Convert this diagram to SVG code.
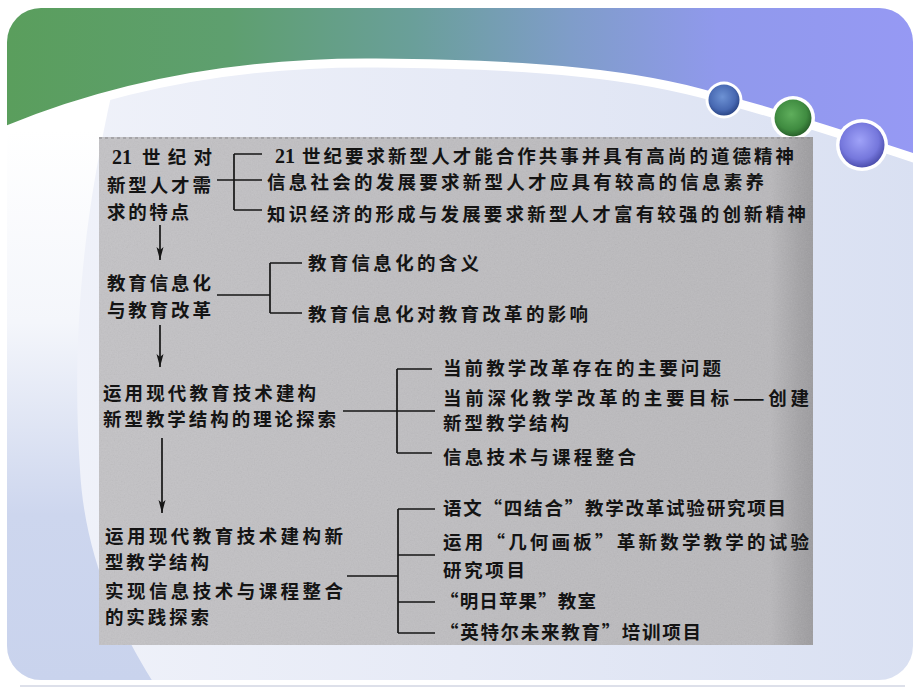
<svg xmlns="http://www.w3.org/2000/svg" width="920" height="690" viewBox="0 0 920 690">
<defs>
<style>
.t{font-family:"Noto Sans CJK SC","Liberation Sans",sans-serif;font-size:18.5px;font-weight:700;fill:#141414;}
.d{font-family:"Liberation Serif","Noto Sans CJK SC",serif;font-size:20px;font-weight:700;fill:#141414;}
.ln{stroke:#161616;stroke-width:1.7;fill:none;}
</style>
<clipPath id="card"><rect x="7" y="8" width="906" height="672" rx="34"/></clipPath>
<linearGradient id="head" x1="0" y1="0" x2="920" y2="0" gradientUnits="userSpaceOnUse">
<stop offset="0" stop-color="#5a9e5c"/><stop offset="0.25" stop-color="#5e9f6f"/><stop offset="0.45" stop-color="#6a9f9a"/><stop offset="0.62" stop-color="#7f9dc9"/><stop offset="0.78" stop-color="#9099ec"/><stop offset="1" stop-color="#9699f4"/>
</linearGradient>
<linearGradient id="light" x1="0" y1="0" x2="920" y2="0" gradientUnits="userSpaceOnUse">
<stop offset="0" stop-color="#f1f3fa"/><stop offset="0.5" stop-color="#e6eaf6"/><stop offset="1" stop-color="#d9e0f2"/>
</linearGradient>
<linearGradient id="strip" x1="0" y1="130" x2="0" y2="680" gradientUnits="userSpaceOnUse">
<stop offset="0" stop-color="#ffffff"/><stop offset="0.35" stop-color="#f4f6fb"/><stop offset="0.7" stop-color="#cdd6ee"/><stop offset="1" stop-color="#c9d3ed"/>
</linearGradient>
<linearGradient id="photo" x1="99" y1="0" x2="813" y2="0" gradientUnits="userSpaceOnUse">
<stop offset="0" stop-color="#c3c2c5"/><stop offset="0.5" stop-color="#bebdc0"/><stop offset="0.94" stop-color="#b9b8bb"/><stop offset="0.98" stop-color="#a4a3a6"/><stop offset="1" stop-color="#9c9b9e"/>
</linearGradient>
<radialGradient id="c1" cx="0.45" cy="0.4" r="0.6"><stop offset="0" stop-color="#6d92d4"/><stop offset="0.7" stop-color="#4869b2"/><stop offset="1" stop-color="#2c4788"/></radialGradient>
<radialGradient id="c2" cx="0.45" cy="0.4" r="0.6"><stop offset="0" stop-color="#5fae5c"/><stop offset="0.7" stop-color="#3f8b40"/><stop offset="1" stop-color="#28602a"/></radialGradient>
<radialGradient id="c3" cx="0.45" cy="0.4" r="0.6"><stop offset="0" stop-color="#9fa2f8"/><stop offset="0.7" stop-color="#7577dc"/><stop offset="1" stop-color="#4d4fae"/></radialGradient>
<filter id="grain" x="0" y="0" width="1" height="1">
<feTurbulence type="fractalNoise" baseFrequency="0.7" numOctaves="2" seed="4"/>
<feColorMatrix type="saturate" values="0"/>
<feComposite operator="in" in2="SourceGraphic"/>
</filter>
<marker id="ah" markerUnits="userSpaceOnUse" markerWidth="8" markerHeight="14" refX="4" refY="13" orient="0" viewBox="0 0 8 14">
<path d="M0.5,0 L4,13 L7.5,0 L4,3 Z" fill="#161616"/>
</marker>
</defs>

<rect width="920" height="690" fill="#ffffff"/>
<line x1="20" y1="686" x2="905" y2="686" stroke="#dde0ea" stroke-width="2"/>

<g id="background" clip-path="url(#card)">
<rect x="7" y="8" width="906" height="672" fill="url(#light)"/>
<path d="M0,120 L112,92 C88,200 70,320 80,470 C85,560 120,630 158,690 L0,690 Z" fill="url(#strip)"/>
<path d="M0,133 C130,78 260,62 376,63 C520,64 620,72 700,93 C780,114 850,137 920,160 L920,0 L0,0 Z" fill="url(#head)"/>
<path d="M0,133 C130,78 260,62 376,63 C520,64 620,72 700,93 C780,114 850,137 920,160" fill="none" stroke="#ffffff" stroke-width="9"/>
</g>

<g id="dots">
<circle cx="724" cy="100" r="18.5" fill="#ffffff"/>
<circle cx="724" cy="100" r="15.5" fill="url(#c1)"/>
<circle cx="793" cy="118" r="22" fill="#ffffff"/>
<circle cx="793" cy="118" r="18.5" fill="url(#c2)"/>
<circle cx="862" cy="145" r="26" fill="#ffffff"/>
<circle cx="862" cy="145" r="22.5" fill="url(#c3)"/>
</g>

<g id="photo">
<rect x="99" y="137" width="714" height="508" fill="url(#photo)"/>
<rect x="99" y="137" width="714" height="508" fill="#000" filter="url(#grain)" opacity="0.16"/>
<line x1="99" y1="138" x2="813" y2="138" stroke="#8d8c90" stroke-width="1.5" stroke-dasharray="3 3" opacity="0.7"/>
</g>

<g id="connectors">
<path class="ln" d="M217,180 H262 M234,154 V210 M234,154 H262 M234,210 H262"/>
<path class="ln" d="M160,225 V260" marker-end="url(#ah)"/>
<path class="ln" d="M217,295 H270 M270,263 V313 M270,263 H302 M270,313 H302"/>
<path class="ln" d="M160,325 V367" marker-end="url(#ah)"/>
<path class="ln" d="M343,411 H435 M397,369 V453 M397,369 H432 M397,453 H432"/>
<path class="ln" d="M162,438 V513" marker-end="url(#ah)"/>
<path class="ln" d="M347,576 H398 M398,509 V633 M398,509 H435 M398,555 H435 M398,602 H435 M398,633 H435"/>
</g>

<g id="n1">
<text class="d" x="112" y="164">21</text>
<text class="t" x="142" y="164" textLength="70" lengthAdjust="spacing">世纪对</text>
<text class="t" x="107" y="192" textLength="104" lengthAdjust="spacing">新型人才需</text>
<text class="t" x="107" y="219" textLength="82" lengthAdjust="spacing">求的特点</text>
</g>
<g id="n1a">
<text class="d" x="275" y="163">21</text>
<text class="t" x="302" y="163" textLength="492" lengthAdjust="spacing">世纪要求新型人才能合作共事并具有高尚的道德精神</text>
</g>
<g id="n1b"><text class="t" x="267" y="189" textLength="497" lengthAdjust="spacing">信息社会的发展要求新型人才应具有较高的信息素养</text></g>
<g id="n1c"><text class="t" x="267" y="221" textLength="539" lengthAdjust="spacing">知识经济的形成与发展要求新型人才富有较强的创新精神</text></g>

<g id="n2">
<text class="t" x="107" y="290" textLength="104" lengthAdjust="spacing">教育信息化</text>
<text class="t" x="107" y="317" textLength="104" lengthAdjust="spacing">与教育改革</text>
</g>
<g id="n2a"><text class="t" x="308" y="270" textLength="171" lengthAdjust="spacing">教育信息化的含义</text></g>
<g id="n2b"><text class="t" x="308" y="321" textLength="280" lengthAdjust="spacing">教育信息化对教育改革的影响</text></g>

<g id="n3">
<text class="t" x="103" y="400" textLength="213" lengthAdjust="spacing">运用现代教育技术建构</text>
<text class="t" x="103" y="426" textLength="233" lengthAdjust="spacing">新型教学结构的理论探索</text>
</g>
<g id="n3a"><text class="t" x="443" y="375" textLength="278" lengthAdjust="spacing">当前教学改革存在的主要问题</text></g>
<g id="n3b">
<text class="t" x="443" y="405" textLength="366" lengthAdjust="spacing">当前深化教学改革的主要目标——创建</text>
<text class="t" x="443" y="430" textLength="126" lengthAdjust="spacing">新型教学结构</text>
</g>
<g id="n3c"><text class="t" x="443" y="464" textLength="193" lengthAdjust="spacing">信息技术与课程整合</text></g>

<g id="n4">
<text class="t" x="105" y="543" textLength="238" lengthAdjust="spacing">运用现代教育技术建构新</text>
<text class="t" x="105" y="569" textLength="104" lengthAdjust="spacing">型教学结构</text>
<text class="t" x="105" y="598" textLength="238" lengthAdjust="spacing">实现信息技术与课程整合</text>
<text class="t" x="105" y="624" textLength="104" lengthAdjust="spacing">的实践探索</text>
</g>
<g id="n4a"><text class="t" x="443" y="515" textLength="343" lengthAdjust="spacing">语文“四结合”教学改革试验研究项目</text></g>
<g id="n4b">
<text class="t" x="443" y="549" textLength="366" lengthAdjust="spacing">运用“几何画板”革新数学教学的试验</text>
<text class="t" x="443" y="577" textLength="82" lengthAdjust="spacing">研究项目</text>
</g>
<g id="n4c"><text class="t" x="440" y="608" textLength="156" lengthAdjust="spacing">“明日苹果”教室</text></g>
<g id="n4d"><text class="t" x="440" y="639" textLength="261" lengthAdjust="spacing">“英特尔未来教育”培训项目</text></g>
</svg>
